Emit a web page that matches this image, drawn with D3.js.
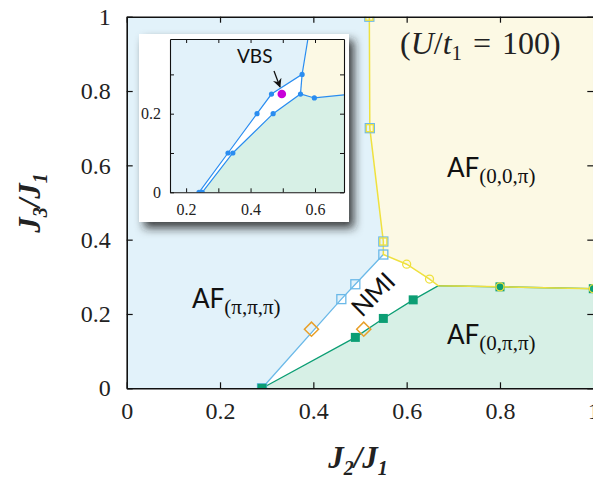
<!DOCTYPE html>
<html><head><meta charset="utf-8">
<script src="https://cdn.jsdelivr.net/npm/d3@7"></script>
<style>body{margin:0;background:#fff}svg{display:block}</style>
</head><body>
<script>
// ---------- data ----------
const xTicks = [0, 0.2, 0.4, 0.6, 0.8, 1];
const yTicks = [0, 0.2, 0.4, 0.6, 0.8, 1];
// AF(pi,pi,pi) / NMI boundary (blue)
const blueLine = [[0.29,0],[0.46,0.24],[0.49,0.28],[0.55,0.36]];
const blueMarks = [[0.29,0],[0.46,0.24],[0.49,0.28],[0.55,0.36],[0.55,0.395],[0.521,0.70],[0.52,1.0]];
// AF(0,0,pi) boundary (yellow)
const yellowLine = [[0.52,1.0],[0.521,0.70],[0.55,0.395],[0.55,0.36],[0.60,0.334],[0.649,0.294],[0.668,0.276],[0.80,0.273],[1.0,0.268]];
const yellowSquares = [[0.52,1.0],[0.521,0.70],[0.55,0.395]];
const yellowCircles = [[0.60,0.334],[0.649,0.294],[0.80,0.273],[1.0,0.268]];
// AF(0,pi,pi) boundary (green)
const greenLine = [[0.29,0],[0.49,0.137],[0.55,0.188],[0.614,0.238],[0.668,0.276],[0.80,0.273],[1.0,0.268]];
const greenMarks = [[0.29,0],[0.49,0.137],[0.55,0.188],[0.614,0.238],[0.80,0.273],[1.0,0.268]];
// orange diamonds
const diamonds = [[0.396,0.159],[0.508,0.159]];
// inset
const insetXTicks = [0.2,0.3,0.4,0.5,0.6];
const insetXLabels = [0.2,0.4,0.6];
const insetYTicks = [0,0.1,0.2,0.3];
const insetYLabels = [0,0.2];
const insetUpper = [[0.24,0],[0.33,0.1],[0.42,0.2],[0.465,0.25],[0.56,0.30],[0.578,0.39]];
const insetLower = [[0.25,0],[0.345,0.1],[0.47,0.2],[0.555,0.25],[0.598,0.24],[0.69,0.248]];
const insetDots = [[0.24,0],[0.25,0],[0.33,0.1],[0.345,0.1],[0.42,0.2],[0.47,0.2],[0.465,0.25],[0.555,0.25],[0.56,0.30],[0.598,0.24]];
const vbsPoint = [0.497,0.25];

// ---------- colours ----------
const cBlueBg="#e2f2fa", cYelBg="#fcf9e4", cGrnBg="#d7f0e6";
const cBlue="#6bb9e8", cYel="#efe13f", cGrn="#0c9e74", cOrg="#e8a02a", cInset="#2a8df0";
const SERIF="'Liberation Serif','Times New Roman',serif";
const SANS="Lato,'Open Sans',sans-serif";

const W=593,H=480;
const svg=d3.select("body").append("svg").attr("width",W).attr("height",H);
const defs=svg.append("defs");
const f=defs.append("filter").attr("id","sh").attr("x","-20%").attr("y","-20%").attr("width","150%").attr("height","150%");
f.append("feDropShadow").attr("dx",5).attr("dy",6).attr("stdDeviation",5).attr("flood-color","#222").attr("flood-opacity",0.85);
defs.append("clipPath").attr("id","cp").append("rect").attr("x",126.7).attr("y",16.7).attr("width",466.6).attr("height",371.6);

const x=d3.scaleLinear([0,1],[126.7,593.3]);
const y=d3.scaleLinear([0,1],[388.3,16.7]);
const line=d3.line().x(d=>x(d[0])).y(d=>y(d[1]));

const g=svg.append("g").attr("clip-path","url(#cp)");
// regions
const blueRegion=[[0,0],...blueLine,[0.55,0.395],[0.521,0.70],[0.52,1.0],[0,1]];
const yelRegion=[...yellowLine,[1,1]];
const grnRegion=[...greenLine,[1,0]];
g.append("rect").attr("x",x(0)).attr("y",y(1)).attr("width",x(1)-x(0)).attr("height",y(0)-y(1)).attr("fill","#fff");
g.append("path").attr("d",line(blueRegion)+"Z").attr("fill",cBlueBg);
g.append("path").attr("d",line(yelRegion)+"Z").attr("fill",cYelBg);
g.append("path").attr("d",line(grnRegion)+"Z").attr("fill",cGrnBg);

// lines
g.append("path").attr("d",line(blueLine)).attr("fill","none").attr("stroke",cBlue).attr("stroke-width",1.3);
g.append("path").attr("d",line(greenLine)).attr("fill","none").attr("stroke",cGrn).attr("stroke-width",1.3);
g.append("path").attr("d",line(yellowLine)).attr("fill","none").attr("stroke",cYel).attr("stroke-width",1.5);

// markers
g.selectAll(".bm").data(blueMarks).join("rect").attr("x",d=>x(d[0])-4.5).attr("y",d=>y(d[1])-4.5).attr("width",9).attr("height",9).attr("fill","none").attr("stroke",cBlue).attr("stroke-width",1.3);
g.selectAll(".gm").data(greenMarks).join("rect").attr("x",d=>x(d[0])-4.5).attr("y",d=>y(d[1])-4.5).attr("width",9).attr("height",9).attr("fill",cGrn);
g.selectAll(".ys").data(yellowSquares).join("rect").attr("x",d=>x(d[0])-3.5).attr("y",d=>y(d[1])-3.5).attr("width",7).attr("height",7).attr("fill","none").attr("stroke",cYel).attr("stroke-width",1.3);
g.selectAll(".yc").data(yellowCircles).join("circle").attr("cx",d=>x(d[0])).attr("cy",d=>y(d[1])).attr("r",4).attr("fill","none").attr("stroke",cYel).attr("stroke-width",1.3);
g.selectAll(".dm").data(diamonds).join("rect").attr("x",-5).attr("y",-5).attr("width",10).attr("height",10)
 .attr("transform",d=>`translate(${x(d[0])},${y(d[1])}) rotate(45)`).attr("fill","none").attr("stroke",cOrg).attr("stroke-width",1.5);

// axes
const ax=svg.append("g");
const axB=ax.append("g").attr("transform",`translate(0,${y(0)})`)
 .call(d3.axisBottom(x).tickValues(xTicks).tickFormat(d3.format("")).tickSizeInner(-6).tickSizeOuter(0).tickPadding(14));
const axL=ax.append("g").attr("transform",`translate(${x(0)},0)`)
 .call(d3.axisLeft(y).tickValues(yTicks).tickFormat(d3.format("")).tickSizeInner(-6).tickSizeOuter(0).tickPadding(16));
const axT=ax.append("g").attr("transform",`translate(0,${y(1)})`)
 .call(d3.axisTop(x).tickValues(xTicks).tickFormat("").tickSizeInner(-6).tickSizeOuter(0));
const axR=ax.append("g").attr("transform",`translate(${x(1)},0)`)
 .call(d3.axisRight(y).tickValues(yTicks).tickFormat("").tickSizeInner(-6).tickSizeOuter(0));
[axB,axL,axT,axR].forEach(a=>{a.attr("font-family",SERIF);a.select(".domain").attr("stroke","#111").attr("stroke-width",1.6);a.selectAll(".tick line").attr("stroke","#111").attr("stroke-width",1.2);
 a.selectAll("text").attr("font-size",24).attr("fill","#222").style("font-family",SERIF);});

// axis titles
svg.append("text").attr("x",358).attr("y",468).attr("text-anchor","middle").style("font-family",SERIF)
 .attr("font-size",31).attr("font-style","italic").attr("font-weight","bold").attr("fill","#222")
 .html('J<tspan font-size="20" dy="7">2</tspan><tspan dy="-7">/J</tspan><tspan font-size="20" dy="7">1</tspan>');
svg.append("text").attr("transform","translate(40,203) rotate(-90)").attr("text-anchor","middle").style("font-family",SERIF)
 .attr("font-size",31).attr("font-style","italic").attr("font-weight","bold").attr("fill","#222")
 .html('J<tspan font-size="20" dy="7">3</tspan><tspan dy="-7">/J</tspan><tspan font-size="20" dy="7">1</tspan>');

// (U/t1 = 100)
const ut=svg.append("text").attr("x",400).attr("y",54).style("font-family",SERIF).attr("font-size",32).attr("fill","#222");
ut.append("tspan").text("(");
ut.append("tspan").attr("font-style","italic").text("U");
ut.append("tspan").text("/");
ut.append("tspan").attr("font-style","italic").text("t");
ut.append("tspan").attr("font-size",21).attr("dy",6).text("1");
ut.append("tspan").attr("dy",-6).attr("dx",11).text("=");
ut.append("tspan").attr("dx",11).text("100)");

// region labels
function afLabel(px,py,sub){
  const t=svg.append("text").attr("x",px).attr("y",py).attr("fill","#111");
  t.append("tspan").style("font-family",SANS).attr("font-size",26).text("AF");
  t.append("tspan").style("font-family",SERIF).attr("font-size",21).attr("dy",6).text(sub);
}
afLabel(192,308,"(π,π,π)");
afLabel(447,177,"(0,0,π)");
afLabel(447,344,"(0,π,π)");
svg.append("text").attr("transform","translate(375,296) rotate(-45)").attr("text-anchor","middle").attr("dominant-baseline","middle")
 .style("font-family",SANS).attr("font-size",25).attr("fill","#111").text("NMI");

// ---------- inset ----------
svg.append("rect").attr("x",139).attr("y",34).attr("width",210).attr("height",188).attr("fill","#fff").attr("filter","url(#sh)");
const xi=d3.scaleLinear([0.15,0.69],[170,344]);
const yi=d3.scaleLinear([0,0.39],[192.3,39]);
const li=d3.line().x(d=>xi(d[0])).y(d=>yi(d[1]));
defs.append("clipPath").attr("id","cpi").append("rect").attr("x",170).attr("y",39).attr("width",174).attr("height",153.3);
const gi=svg.append("g").attr("clip-path","url(#cpi)");
gi.append("rect").attr("x",170).attr("y",39).attr("width",174).attr("height",153.3).attr("fill","#fff");
gi.append("path").attr("d",li([[0.15,0],...insetUpper,[0.15,0.39]])+"Z").attr("fill",cBlueBg);
gi.append("path").attr("d",li([...insetLower,[0.69,0]])+"Z").attr("fill",cGrnBg);
gi.append("path").attr("d",li([[0.578,0.39],[0.56,0.30],[0.555,0.25],[0.598,0.24],[0.69,0.248],[0.69,0.39]])+"Z").attr("fill",cYelBg);
[insetUpper,insetLower,[[0.56,0.30],[0.555,0.25]]].forEach(l=>gi.append("path").attr("d",li(l)).attr("fill","none").attr("stroke",cInset).attr("stroke-width",1.2));
gi.selectAll(".id").data(insetDots).join("circle").attr("cx",d=>xi(d[0])).attr("cy",d=>yi(d[1])).attr("r",2.6).attr("fill",cInset);
gi.append("circle").attr("cx",xi(vbsPoint[0])).attr("cy",yi(vbsPoint[1])).attr("r",4.3).attr("fill","#c800d8");

const ia=svg.append("g");
const ib=ia.append("g").attr("transform","translate(0,192.3)").call(d3.axisBottom(xi).tickValues(insetXTicks).tickFormat(d=>insetXLabels.includes(d)?d3.format("")(d):"").tickSizeInner(-4).tickSizeOuter(0).tickPadding(11));
const il=ia.append("g").attr("transform","translate(170,0)").call(d3.axisLeft(yi).tickValues(insetYTicks).tickFormat(d=>insetYLabels.includes(d)?d3.format("")(d):"").tickSizeInner(-4).tickSizeOuter(0).tickPadding(9));
const it=ia.append("g").attr("transform","translate(0,39)").call(d3.axisTop(xi).tickValues(insetXTicks).tickFormat("").tickSizeInner(-4).tickSizeOuter(0));
const ir=ia.append("g").attr("transform","translate(344,0)").call(d3.axisRight(yi).tickValues(insetYTicks).tickFormat("").tickSizeInner(-4).tickSizeOuter(0));
[ib,il,it,ir].forEach(a=>{a.attr("font-family",SERIF);a.select(".domain").attr("stroke","#111").attr("stroke-width",1.1);a.selectAll(".tick line").attr("stroke","#111");
 a.selectAll("text").attr("font-size",16).attr("fill","#222").style("font-family",SERIF);});

svg.append("text").attr("x",237).attr("y",63).style("font-family",SANS).attr("font-size",19).attr("fill","#111").text("VBS");
defs.append("marker").attr("id","ah").attr("viewBox","0 0 10 10").attr("refX",9).attr("refY",5).attr("markerWidth",7).attr("markerHeight",7).attr("orient","auto")
 .append("path").attr("d","M0,0L10,5L0,10L3,5Z").attr("fill","#111");
svg.append("line").attr("x1",274).attr("y1",71).attr("x2",280).attr("y2",87).attr("stroke","#111").attr("stroke-width",1.3).attr("marker-end","url(#ah)");
</script>
</body></html>
